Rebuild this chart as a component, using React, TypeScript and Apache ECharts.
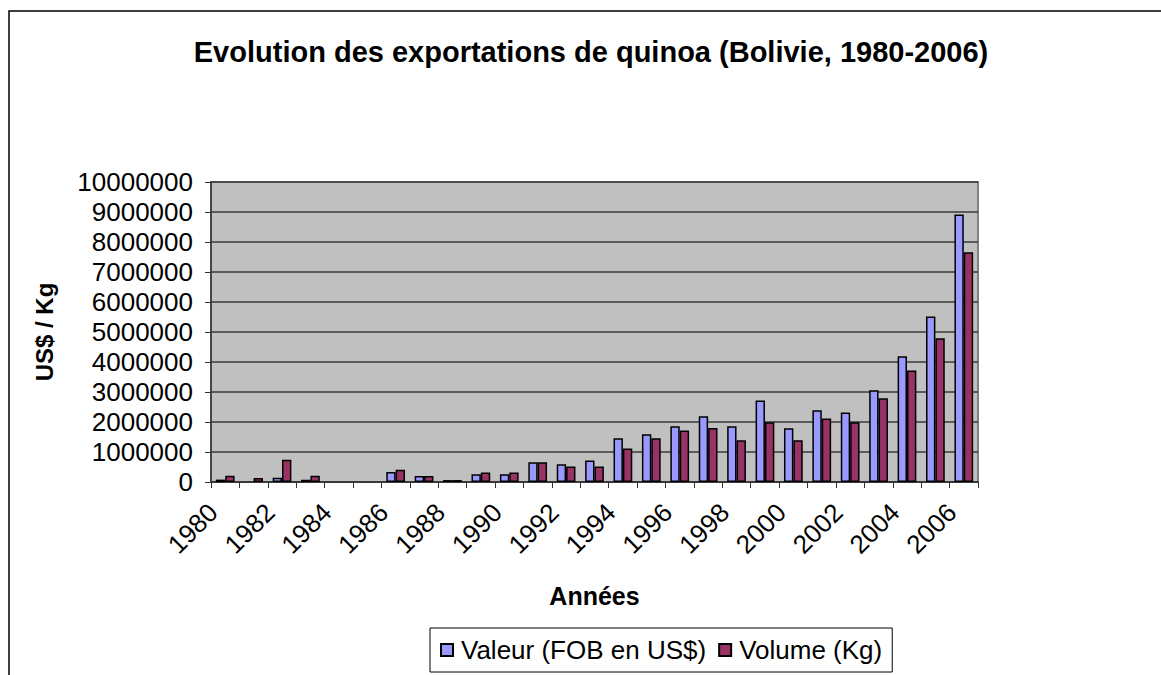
import React, { useEffect, useRef } from "react";
import * as echarts from "echarts";

const years: string[] = [
  "1980", "1981", "1982", "1983", "1984", "1985", "1986", "1987", "1988", "1989",
  "1990", "1991", "1992", "1993", "1994", "1995", "1996", "1997", "1998", "1999",
  "2000", "2001", "2002", "2003", "2004", "2005", "2006",
];

const valeurFOB: (number | null)[] = [
  80000, null, 145000, 75000, null, null, 330000, 200000, 65000, 255000,
  255000, 655000, 590000, 720000, 1455000, 1590000, 1855000, 2190000, 1855000, 2720000,
  1790000, 2390000, 2320000, 3060000, 4190000, 5520000, 8920000,
];

const volumeKg: (number | null)[] = [
  210000, 130000, 745000, 210000, null, null, 410000, 200000, 65000, 320000,
  320000, 655000, 520000, 520000, 1120000, 1455000, 1720000, 1800000, 1390000, 1990000,
  1390000, 2120000, 1990000, 2790000, 3720000, 4790000, 7660000,
];

const FONT = "'Liberation Sans', Arial, sans-serif";

export default function App() {
  const ref = useRef<HTMLDivElement>(null);
  useEffect(() => {
    document.body.style.margin = "0";
    const chart = echarts.init(ref.current!, null, { renderer: "svg" });
    chart.setOption({
      animation: false,
      backgroundColor: "#ffffff",
      textStyle: { fontFamily: FONT },
      title: {
        text: "Evolution des exportations de quinoa (Bolivie, 1980-2006)",
        left: 586,
        textAlign: "center",
        top: 32,
        textStyle: { fontFamily: FONT, fontSize: 29, fontWeight: "bold", color: "#000" },
      },
      graphic: [
        {
          type: "rect",
          shape: { x: 9, y: 11, width: 1300, height: 800 },
          style: { fill: "none", stroke: "#000", lineWidth: 1.5 },
          silent: true,
        },
      ],
      legend: {
        left: 430,
        top: 628,
        orient: "horizontal",
        padding: [9, 10, 9, 10],
        borderColor: "#000",
        borderWidth: 1,
        itemWidth: 12,
        itemHeight: 12,
        itemGap: 12,
        icon: "rect",
        textStyle: { fontFamily: FONT, fontSize: 26, color: "#000", padding: [0, 0, 0, 3] },
        data: ["Valeur (FOB en US$)", "Volume (Kg)"],
      },
      grid: {
        left: 211,
        top: 182,
        right: 183,
        bottom: 193,
        show: true,
        backgroundColor: "#C0C0C0",
        borderColor: "#808080",
        borderWidth: 2,
      },
      xAxis: {
        type: "category",
        data: years,
        name: "Années",
        nameLocation: "middle",
        nameGap: 101,
        nameTextStyle: { fontFamily: FONT, fontSize: 25, fontWeight: "bold", color: "#000" },
        axisLine: { show: true, lineStyle: { color: "#333", width: 1.5 } },
        axisTick: { show: true, interval: 0, length: 6, lineStyle: { color: "#333" } },
        axisLabel: {
          interval: 1,
          rotate: 45,
          margin: 14,
          padding: [0, 17, 0, 0],
          fontFamily: FONT,
          fontSize: 26,
          color: "#000",
        },
        splitLine: { show: false },
      },
      yAxis: {
        type: "value",
        min: 0,
        max: 10000000,
        interval: 1000000,
        name: "US$ / Kg",
        nameLocation: "middle",
        nameGap: 155,
        nameRotate: 90,
        nameTextStyle: { fontFamily: FONT, fontSize: 24, fontWeight: "bold", color: "#000" },
        axisLine: { show: true, lineStyle: { color: "#333", width: 1.5 } },
        axisTick: { show: true, inside: false, length: 6, lineStyle: { color: "#333" } },
        axisLabel: {
          margin: 18,
          fontFamily: FONT,
          fontSize: 26,
          color: "#000",
          formatter: (v: number) => String(v),
        },
        splitLine: { show: true, lineStyle: { color: "#3a3a3a", width: 1.5 } },
      },
      series: [
        {
          name: "Valeur (FOB en US$)",
          type: "bar",
          data: valeurFOB,
          barGap: "0%",
          barCategoryGap: "34%",
          itemStyle: { color: "#9999FF", borderColor: "#000", borderWidth: 1.5 },
        },
        {
          name: "Volume (Kg)",
          type: "bar",
          data: volumeKg,
          barGap: "0%",
          barCategoryGap: "34%",
          itemStyle: { color: "#993366", borderColor: "#000", borderWidth: 1.5 },
        },
      ],
    });
    return () => chart.dispose();
  }, []);
  return <div ref={ref} style={{ width: 1161, height: 675 }} />;
}
